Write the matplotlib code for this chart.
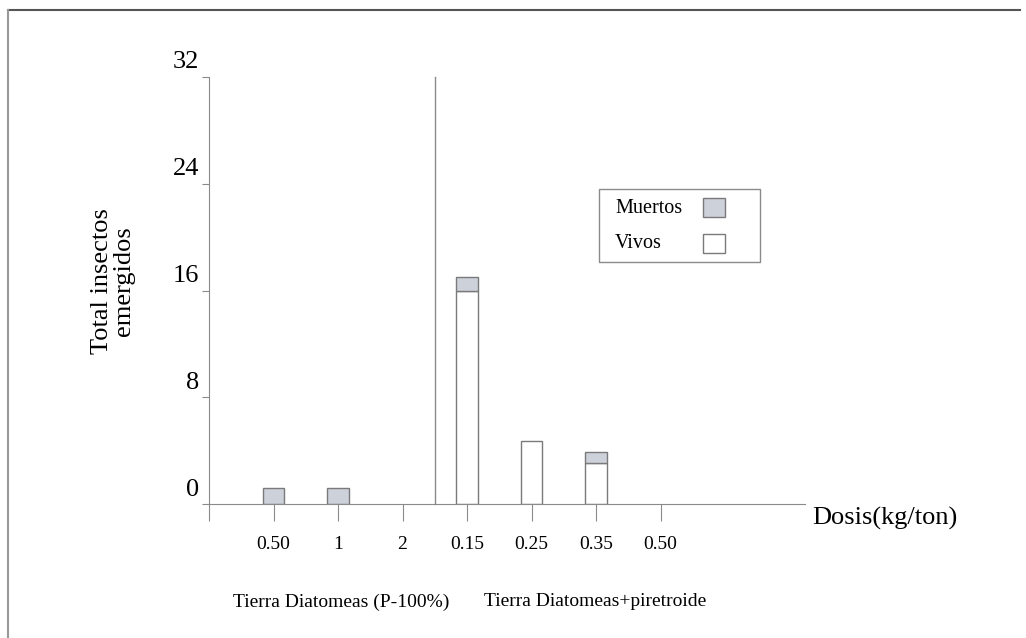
import numpy as np
import matplotlib
matplotlib.use("Agg")
import matplotlib.pyplot as plt
from matplotlib.lines import Line2D
from matplotlib.patches import Rectangle
from matplotlib.transforms import ScaledTranslation

plt.rcParams['font.family'] = ['Liberation Serif', 'DejaVu Serif']

# dose labels, two product groups
doses = ["0.50", "1", "2", "0.15", "0.25", "0.35", "0.50"]
vivos = [0, 0, 0, 16.0, 4.7, 3.1, 0]
muertos = [1.2, 1.2, 0, 1.0, 0, 0.8, 0]
yticks = [0, 8, 16, 24, 32]
group_labels = ["Tierra Diatomeas (P-100%)", "Tierra Diatomeas+piretroide"]

W, H = 1026, 638
fig = plt.figure(figsize=(W / 100, H / 100), dpi=100)
ax = fig.add_axes([209 / W, (H - 504) / H, (805 - 209) / W, (504 - 77) / H])

x = np.arange(len(doses))
edge = "#7a7a7a"
gray = "#cdd1da"
b_viv = ax.bar(x, vivos, width=0.34, color="white", edgecolor=edge, linewidth=1.0)
b_mue = ax.bar(x, muertos, width=0.34, bottom=vivos, color=gray, edgecolor=edge, linewidth=1.0)
# hide zero-height bars
for b in list(b_viv) + list(b_mue):
    if b.get_height() == 0:
        b.set_visible(False)

# separator between the two groups
ax.plot([2.5, 2.5], [0, 32], color="#8a8a8a", lw=1.0, clip_on=False)

ax.set_xlim(-1, 8.24)
ax.set_ylim(0, 32)
for s in ["top", "right"]:
    ax.spines[s].set_visible(False)
ax.spines["left"].set_color("#8a8a8a")
ax.spines["bottom"].set_color("#8a8a8a")

ax.set_xticks(np.arange(-1, len(doses)))
ax.set_xticklabels([""] + doses, fontsize=14)
ax.tick_params(axis="x", direction="out", length=12, color="#8a8a8a", pad=11)
ax.set_yticks(yticks)
ax.set_yticklabels([str(v) for v in yticks], fontsize=19)
ax.tick_params(axis="y", direction="out", length=5, color="#8a8a8a", pad=2)
# y labels sit above their ticks in the original
off = ScaledTranslation(0, 0.17, fig.dpi_scale_trans)
for lab in ax.get_yticklabels():
    lab.set_transform(lab.get_transform() + off)

fig.text(113 / W, 1 - 281 / H, "Total insectos\nemergidos", rotation=90, fontsize=19,
         ha="center", va="center", linespacing=0.95)
fig.text(812 / W, 1 - 518 / H, "Dosis(kg/ton)", fontsize=19, ha="left", va="center")
fig.text(341 / W, 1 - 602 / H, group_labels[0], fontsize=14, ha="center", va="center")
fig.text(595 / W, 1 - 602 / H, group_labels[1], fontsize=14, ha="center", va="center")

# legend box: labels on the left, swatches on the right
def fig_rect(x0, y0, x1, y1, **kw):
    r = Rectangle((x0 / W, 1 - y1 / H), (x1 - x0) / W, (y1 - y0) / H,
                  transform=fig.transFigure, **kw)
    fig.add_artist(r)

fig_rect(599, 189, 760, 262, facecolor="white", edgecolor="#8a8a8a", lw=1.0)
for label, color, yc in [("Muertos", gray, 208), ("Vivos", "white", 243)]:
    fig.text(615 / W, 1 - (yc + 5) / H, label, fontsize=14.5, ha="left", va="baseline")
    fig_rect(703, yc - 9.5, 725, yc + 9.5, facecolor=color, edgecolor=edge, lw=1.0)

# page border from the scan
fig.add_artist(Line2D([8 / W, 1020 / W], [1 - 10 / H, 1 - 10 / H], color="#555555", lw=1.5))
fig.add_artist(Line2D([8 / W, 8 / W], [1 - 10 / H, 0], color="#999999", lw=1.5))

fig.savefig("out.png", dpi=100)
